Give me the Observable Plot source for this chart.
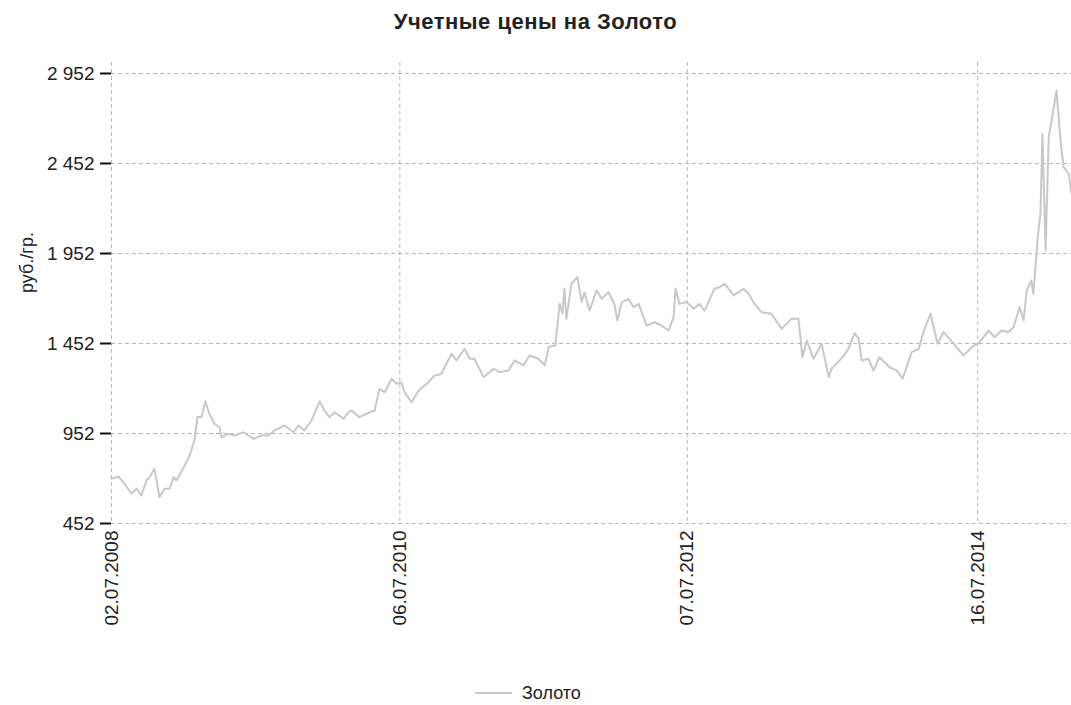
<!DOCTYPE html>
<html>
<head>
<meta charset="utf-8">
<script src="https://cdn.jsdelivr.net/npm/d3@7"></script>
<script src="https://cdn.jsdelivr.net/npm/@observablehq/plot@0.6"></script>
<style>
  html, body { margin: 0; padding: 0; background: #fff; }
  body { width: 1071px; height: 705px; position: relative; overflow: hidden; font-family: "Liberation Sans", Arial, sans-serif; }
  #title { position: absolute; top: 7px; left: 0; width: 1071px; text-align: center; font-weight: bold; font-size: 22px; letter-spacing: 0.5px; color: #222; line-height: 30px; }
  #chart { position: absolute; top: 50px; left: 0; }
  #legend { position: absolute; top: 682px; left: 475px; height: 22px; display: flex; align-items: center; font-size: 18px; color: #222; }
  #legend .sw { width: 37px; height: 0; border-top: 2px solid #c8c8c8; margin-right: 10px; }
</style>
</head>
<body>
<div id="title">Учетные цены на Золото</div>
<div id="chart"></div>
<div id="legend"><span class="sw"></span><span>Золото</span></div>
<script>
const seriesName = "Золото";
const yLabel = "руб./гр.";
const xTickLabels = ["02.07.2008", "06.07.2010", "07.07.2012", "16.07.2014"];
const yTicks = [452, 952, 1452, 1952, 2452, 2952];
const yTickLabels = ["452", "952", "1 452", "1 952", "2 452", "2 952"];
const xStart = "2008-07-02";
const xEnd = "2015-03-12";

const dates = [
"2008-07-02","2008-07-20","2008-08-04","2008-08-22","2008-09-04","2008-09-16","2008-09-29","2008-10-07","2008-10-19","2008-10-25","2008-11-01","2008-11-14","2008-11-27","2008-12-07","2008-12-14",
"2009-01-02","2009-01-17","2009-01-29","2009-02-06","2009-02-16","2009-02-26","2009-03-08","2009-03-21","2009-04-03","2009-04-08","2009-04-26","2009-05-11","2009-06-03","2009-06-29","2009-07-19","2009-08-06","2009-08-21","2009-09-16","2009-10-08","2009-10-21","2009-11-05","2009-11-23","2009-12-14","2009-12-26",
"2010-01-08","2010-01-21","2010-02-13","2010-02-25","2010-03-05","2010-03-25","2010-04-20","2010-05-03","2010-05-15","2010-05-28","2010-06-15","2010-06-28","2010-07-10","2010-07-18","2010-08-05","2010-08-23","2010-09-17","2010-10-02","2010-10-20","2010-10-28","2010-11-15","2010-11-27","2010-12-18","2010-12-31",
"2011-01-12","2011-02-04","2011-03-02","2011-03-17","2011-04-09","2011-04-24","2011-05-17","2011-06-01","2011-06-24","2011-07-10","2011-07-20","2011-08-06","2011-08-17","2011-08-24","2011-08-29","2011-09-03","2011-09-16","2011-10-01","2011-10-12","2011-10-19","2011-11-01","2011-11-19","2011-12-02","2011-12-19",
"2012-01-03","2012-01-11","2012-01-22","2012-02-08","2012-02-21","2012-03-05","2012-03-25","2012-04-15","2012-05-02","2012-05-20","2012-06-02","2012-06-07","2012-06-17","2012-07-05","2012-07-23","2012-08-07","2012-08-20","2012-09-14","2012-09-27","2012-10-10","2012-11-02","2012-11-27","2012-12-10","2012-12-25",
"2013-01-12","2013-02-06","2013-03-04","2013-03-29","2013-04-16","2013-04-26","2013-05-07","2013-05-24","2013-06-14","2013-07-02","2013-07-09","2013-07-22","2013-08-09","2013-08-21","2013-09-06","2013-09-16","2013-09-24","2013-10-11","2013-10-24","2013-11-08","2013-12-04","2013-12-22",
"2014-01-06","2014-01-29","2014-02-16","2014-02-28","2014-03-18","2014-04-05","2014-04-20","2014-05-06","2014-05-23","2014-06-10","2014-07-01","2014-07-21","2014-08-13","2014-08-28","2014-09-15","2014-10-03","2014-10-16","2014-10-31","2014-11-10","2014-11-18","2014-11-30","2014-12-05","2014-12-16","2014-12-23","2014-12-28",
"2015-01-05","2015-01-13","2015-01-23","2015-02-02","2015-02-12","2015-02-20","2015-03-05","2015-03-12"
];

const prices = [
700,713,673,617,645,608,691,709,756,691,598,645,645,709,691,
765,830,913,1043,1043,1131,1061,1006,987,932,950,941,959,922,941,941,969,996,959,996,969,1024,1131,1080,
1043,1070,1033,1070,1080,1043,1070,1080,1200,1181,1256,1228,1237,1181,1126,1191,1237,1274,1283,1320,1395,1358,1422,1367,
1367,1265,1311,1293,1302,1358,1330,1385,1367,1330,1432,1441,1672,1617,1756,1589,1784,1821,1682,1737,1635,1747,1700,1737,
1672,1580,1682,1700,1654,1672,1552,1570,1552,1524,1598,1756,1672,1682,1645,1672,1635,1756,1765,1784,1719,1756,1728,1672,
1626,1617,1533,1589,1589,1376,1469,1367,1450,1265,1311,1339,1385,1422,1509,1478,1358,1367,1302,1376,1320,1302,
1256,1404,1422,1515,1617,1450,1515,1478,1432,1385,1432,1459,1524,1487,1524,1515,1545,1654,1580,1747,1802,1728,2043,2172,2616,
1969,2598,2727,2857,2579,2431,2394,2283
];

const parseDMY = s => { const [d, m, y] = s.split("."); return new Date(Date.UTC(+y, +m - 1, +d)); };
const table = dates.map((d, i) => ({date: new Date(d + "T00:00:00Z"), price: prices[i], series: seriesName}));
const xTickDates = xTickLabels.map(parseDMY);
const xLabelMap = new Map(xTickDates.map((d, i) => [+d, xTickLabels[i]]));
const yLabelMap = new Map(yTicks.map((v, i) => [v, yTickLabels[i]]));

const chart = Plot.plot({
  width: 1071,
  height: 603,
  marginLeft: 111,
  marginRight: 0,
  marginTop: 12,
  marginBottom: 130,
  style: {fontFamily: "Liberation Sans, Arial, sans-serif", fontSize: "19px", color: "#222", background: "white", overflow: "visible"},
  x: {type: "utc", domain: [new Date(xStart + "T00:00:00Z"), new Date(xEnd + "T00:00:00Z")]},
  y: {domain: [452, 3013]},
  marks: [
    Plot.gridY(yTicks, {stroke: "#b8b8b8", strokeOpacity: 1, strokeDasharray: "4,3"}),
    Plot.gridX(xTickDates, {stroke: "#b8b8b8", strokeOpacity: 1, strokeDasharray: "4,3"}),
    Plot.line(table, {x: "date", y: "price", stroke: "#c8c8c8", strokeWidth: 2}),
    Plot.axisY(yTicks, {tickSize: 11, tickPadding: 6, tickFormat: d => yLabelMap.get(d), stroke: "#111", strokeWidth: 2, label: null, fill: "#222"}),
    Plot.axisX(xTickDates, {tickSize: 0, tickPadding: 7, tickRotate: -90, tickFormat: d => xLabelMap.get(+d), label: null, fill: "#222"}),
    Plot.text([yLabel], {frameAnchor: "left", dx: -84, rotate: -90, fontSize: 18, fill: "#222"})
  ]
});
document.getElementById("chart").appendChild(chart);
</script>
</body>
</html>
